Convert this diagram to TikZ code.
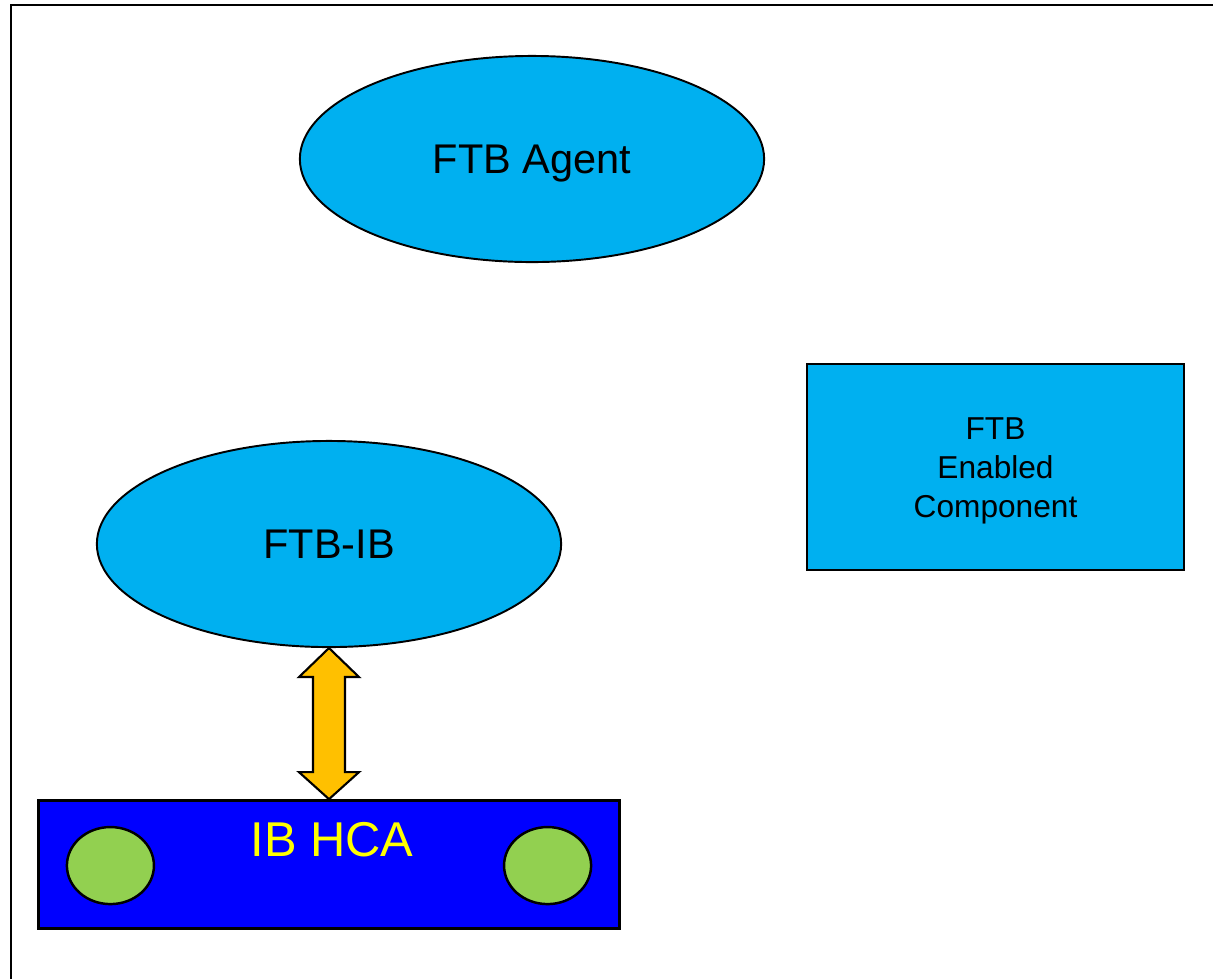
\documentclass[tikz,border=0pt]{standalone}
\usepackage{fontspec}
\setmainfont{Liberation Sans}
\usepackage{xcolor}
\usepackage{tikz}
\usetikzlibrary{shapes,positioning,calc}

\definecolor{ftbcyan}{HTML}{00B0F0}
\definecolor{hcablue}{HTML}{0000FF}
\definecolor{portgreen}{HTML}{92D050}
\definecolor{linkorange}{HTML}{FFC000}
\definecolor{hcayellow}{HTML}{FFFF00}

\begin{document}
\begin{tikzpicture}[x=0.01cm, y=-0.01cm]
    % Styles
    \tikzstyle{frame} = [draw, line width=0.6pt]
    \tikzstyle{service} = [draw, ellipse, line width=0.55pt, fill=ftbcyan, minimum width=4.64cm, minimum height=2.06cm, inner sep=0pt, text depth=0pt, font=\fontsize{11.8}{14}\selectfont]
    \tikzstyle{component} = [draw, rectangle, line width=0.55pt, fill=ftbcyan, minimum width=3.77cm, minimum height=2.06cm, align=center, font=\fontsize{9}{11.1}\selectfont]
    \tikzstyle{adapter} = [draw, rectangle, line width=0.8pt, fill=hcablue, minimum width=5.8cm, minimum height=1.28cm, inner sep=0pt]
    \tikzstyle{port} = [draw, ellipse, line width=0.7pt, fill=portgreen, minimum width=0.87cm, minimum height=0.77cm, inner sep=0pt]
    \tikzstyle{hcalink} = [draw, line width=0.6pt, fill=linkorange, line join=miter]

    % Page and frame
    \clip (0,0) rectangle (1213,978);
    \draw[frame] (11,5) rectangle (1240,1000);

    % Nodes
    \node [service] (Agent) at (532,159) {FTB Agent};
    \node [service] (Ftbib) at (329,544) {FTB-IB};
    \node [component] (Comp) at (995.5,467) {};
    \node [align=center, font=\fontsize{9}{11.1}\selectfont, inner sep=0pt] (CompLbl) at ($(Comp.center)+(0,4)$) {FTB\\Enabled\\Component};
    \node [adapter, below=1.51cm of Ftbib] (Hca) {};

    % IB HCA label and ports
    \node [anchor=base, text=hcayellow, font=\fontsize{13.9}{16}\selectfont, inner sep=0pt] (HcaLbl) at ($(Hca.north)+(3,57)$) {IB HCA};
    \node [port] (PortL) at ($(Hca.west)+(73,1)$) {};
    \node [port] (PortR) at ($(Hca.east)+(-73,1)$) {};

    % FTB-IB <-> IB HCA
    \draw[hcalink] (Ftbib.south) -- ++(30,29) -- ++(-14,0) -- ($(Hca.north)+(16,-27)$) -- ++(14,0)
        -- (Hca.north) -- ++(-30,-27) -- ++(14,0) -- ($(Ftbib.south)+(-16,29)$) -- ++(-14,0) -- cycle;

\end{tikzpicture}
\end{document}
